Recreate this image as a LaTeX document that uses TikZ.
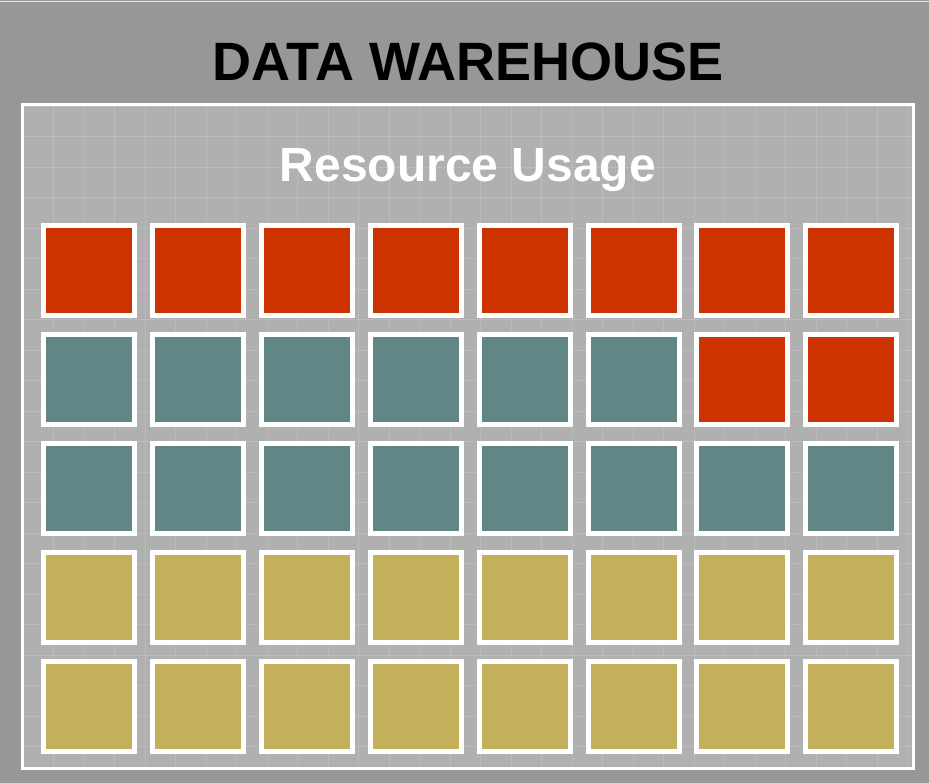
\documentclass[tikz,border=0pt]{standalone}
\usepackage{fontspec}
\setmainfont{Liberation Sans}
\definecolor{outergray}{RGB}{151,151,151}
\definecolor{panelgray}{RGB}{176,176,176}
\definecolor{cellred}{RGB}{204,51,0}
\definecolor{cellteal}{RGB}{96,134,134}
\definecolor{cellolive}{RGB}{196,176,90}
\tikzset{
  cell/.style={draw=white, line width=5pt, minimum width=91pt, minimum height=90pt, inner sep=0pt, outer sep=0pt},
  redcell/.style={cell, fill=cellred},
  tealcell/.style={cell, fill=cellteal},
  olivecell/.style={cell, fill=cellolive},
}
\begin{document}
\begin{tikzpicture}[x=1pt,y=-1pt]
\useasboundingbox (0,0) rectangle (929,783);
\fill[outergray] (0,0) rectangle (929,783);
\draw[white!75!outergray, line width=1.5pt] (0,1.5) -- (929,1.5);
\node[draw=white, line width=3pt, fill=panelgray, minimum width=891pt, minimum height=664pt, inner sep=0pt] (panel) at (467.5,436.5) {};
\begin{scope}
\clip (23,106) rectangle (912,767);
\foreach \i in {0,...,29} {
  \draw[white, opacity=0.15, line width=0.8pt] (23+\i*30.5,106) -- (23+\i*30.5,767);
}
\foreach \j in {0,...,22} {
  \draw[white, opacity=0.15, line width=0.8pt] (23,106+\j*30.5) -- (912,106+\j*30.5);
}
\end{scope}
\node[font=\bfseries\fontsize{54}{54}\selectfont, text=black] (title) at (468,62) {DATA WAREHOUSE};
\node[font=\bfseries\fontsize{48}{48}\selectfont, text=white] (subtitle) at (468,170) {Resource Usage};
\foreach \c in {0,...,7} {
  \node[redcell] (r1c\c) at (89+\c*108.9,270.5) {};
  \node[olivecell] (r4c\c) at (89+\c*108.9,597.5) {};
  \node[olivecell] (r5c\c) at (89+\c*108.9,706.5) {};
  \node[tealcell] (r3c\c) at (89+\c*108.9,488.5) {};
}
\foreach \c in {0,...,5} {
  \node[tealcell] (r2c\c) at (89+\c*108.9,379.5) {};
}
\foreach \c in {6,7} {
  \node[redcell] (r2c\c) at (89+\c*108.9,379.5) {};
}
\end{tikzpicture}
\end{document}
